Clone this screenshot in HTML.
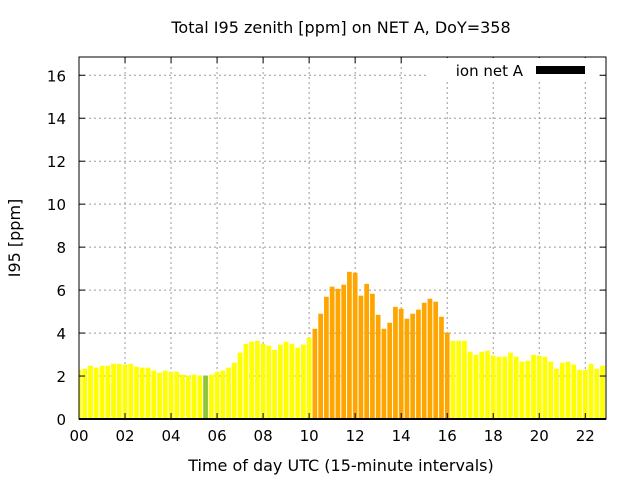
<!DOCTYPE html>
<html><head><meta charset="utf-8"><style>
body{margin:0;background:#fff}
svg{display:block;font-family:"DejaVu Sans","Liberation Sans",sans-serif}
</style></head><body>
<svg id="chart" width="640" height="480" viewBox="0 0 640 480">
<text x="341" y="33" text-anchor="middle" font-size="16">Total I95 zenith [ppm] on NET A, DoY=358</text>
<text x="341" y="471" text-anchor="middle" font-size="16">Time of day UTC (15-minute intervals)</text>
<text transform="translate(20,238) rotate(-90)" text-anchor="middle" font-size="16">I95 [ppm]</text>
<g id="grid"></g><g id="bars"></g><g id="axes"></g>
<g>
<rect x="428" y="58" width="168" height="24" fill="#fff"/>
<text x="523" y="76" text-anchor="end" font-size="15">ion net A</text>
<rect x="536" y="66" width="49" height="8" fill="#000"/>
</g>
</svg>
<script>
const values=[2.29,2.34,2.48,2.39,2.48,2.48,2.57,2.57,2.53,2.57,2.43,2.39,2.39,2.25,2.16,2.25,2.2,2.2,2.06,2.02,2.06,2.02,2.02,2.06,2.2,2.25,2.39,2.62,3.09,3.5,3.6,
3.64,3.5,3.41,3.22,3.46,3.6,3.5,3.32,3.46,3.78,
4.2,4.9,5.69,6.16,6.06,6.25,6.85,6.81,5.74,6.29,5.83,4.85,4.2,4.48,5.22,5.13,4.67,4.9,5.09,5.41,5.6,5.46,4.76,4.02,
3.64,3.64,3.64,3.13,2.99,3.13,3.18,2.95,2.9,2.9,3.09,2.9,2.67,2.71,2.99,2.95,2.9,2.67,2.34,2.62,2.67,2.53,2.29,2.29,2.57,2.34,2.48];
const categories=values.map((v,i)=>i*0.25);
const yTicks=[0,2,4,6,8,10,12,14,16];
const xTicks=[0,2,4,6,8,10,12,14,16,18,20,22];
const xTickLabels=["00","02","04","06","08","10","12","14","16","18","20","22"];
const L=79,R=606,T=57,B=419,XMAX=22.9,YMAX=16.85;
const xs=h=>L+h*(R-L)/XMAX, ys=v=>B-v*(B-T)/YMAX;
const NS="http://www.w3.org/2000/svg";
function mk(t,a,p){const e=document.createElementNS(NS,t);for(const k in a)e.setAttribute(k,a[k]);p.appendChild(e);return e;}
const grid=document.getElementById('grid'),bars=document.getElementById('bars'),axes=document.getElementById('axes');
yTicks.forEach(v=>{const y=ys(v);
 if(v>0){const g=mk('line',{x1:L,x2:R,y1:y,y2:y,stroke:'#999','stroke-dasharray':'2,3'},grid);
 
 }
 mk('line',{x1:L,x2:L+6,y1:y,y2:y,stroke:'#000'},axes);mk('line',{x1:R-6,x2:R,y1:y,y2:y,stroke:'#000'},axes);
 const t=mk('text',{x:L-13,y:y+6,'text-anchor':'end','font-size':'15'},axes);t.textContent=v;
 
 });
xTicks.forEach((h,i)=>{const x=xs(h);
 if(h>0){const g=mk('line',{x1:x,x2:x,y1:T,y2:B,stroke:'#999','stroke-dasharray':'2,3'},grid);
 
 }
 mk('line',{x1:x,x2:x,y1:B,y2:B-6,stroke:'#000'},axes);mk('line',{x1:x,x2:x,y1:T,y2:T+6,stroke:'#000'},axes);
 const t=mk('text',{x:x,y:B+22,'text-anchor':'middle','font-size':'15'},axes);t.textContent=xTickLabels[i];
 
 });
const bw=(R-L)/XMAX*0.25*0.82;
values.forEach((v,i)=>{const cx=xs(categories[i]);let x0=Math.max(L,cx-bw/2),x1=Math.min(R,cx+bw/2);
 const c=(i>=41&&i<=64)?'#ffa500':(i===22?'#8cc43c':'#ffff00');
 const r=mk('rect',{x:x0,y:ys(v),width:x1-x0,height:B-ys(v),fill:c},bars);
 
 });
const fr=mk('rect',{x:L,y:T,width:R-L,height:B-T,fill:'none',stroke:'#000','stroke-width':'1'},axes);


mk('line',{x1:L,x2:R,y1:B,y2:B,stroke:'#000','stroke-width':'2'},axes);
</script>
</body></html>
